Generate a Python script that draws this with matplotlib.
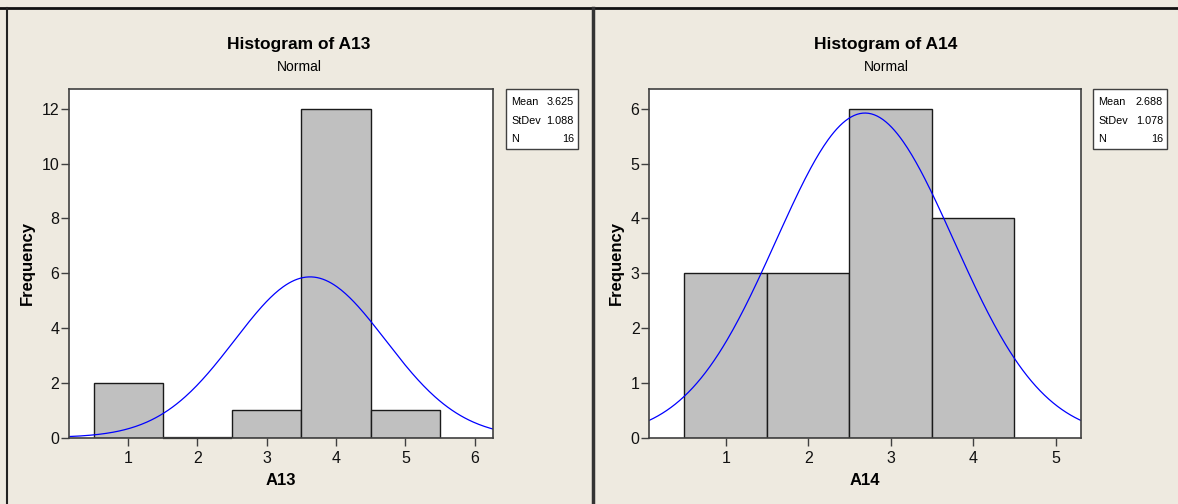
import numpy as np
import matplotlib
matplotlib.use("Agg")
import matplotlib.pyplot as plt
from matplotlib.patches import Rectangle
from matplotlib.lines import Line2D

# Bin centres and counts for each variable
bins_a13 = [1, 2, 3, 4, 5]
counts_a13 = [2, 0, 1, 12, 1]
bins_a14 = [1, 2, 3, 4]
counts_a14 = [3, 3, 6, 4]

# Summary statistics shown in the legend boxes
mean_a13, sd_a13, n_a13 = 3.625, 1.088, 16
mean_a14, sd_a14, n_a14 = 2.688, 1.078, 16

W, H = 1178, 504
BG = "#EEEAE0"
FONT = ["Liberation Sans", "DejaVu Sans"]
plt.rcParams["font.family"] = FONT

fig = plt.figure(figsize=(W / 100, H / 100), dpi=100, facecolor=BG)


def fx(px):
    return px / W


def fy(py):
    return 1 - py / H


def panel(left_px, right_px, panel_l, panel_r, bins, counts, mean, sd, n,
          xlim, ylim, yticks, xticks, name, box_l, box_r):
    ax = fig.add_axes([fx(left_px), fy(437.5), fx(right_px - left_px),
                       (437.5 - 89) / H])
    ax.set_facecolor("white")
    bars = ax.bar(bins, counts, width=1.0, color="#C0C0C0", edgecolor="#1a1a1a",
                  linewidth=1.0, zorder=2)
    for b in bars:
        if b.get_height() == 0:
            b.set_clip_on(False)
            b.set_linewidth(1.6)
    xs = np.linspace(xlim[0], xlim[1], 300)
    pdf = n * 1.0 * np.exp(-0.5 * ((xs - mean) / sd) ** 2) / (sd * np.sqrt(2 * np.pi))
    ax.plot(xs, pdf, color="#0000FF", linewidth=0.9, zorder=3)
    ax.set_xlim(*xlim)
    ax.set_ylim(*ylim)
    ax.set_xticks(xticks)
    ax.set_yticks(yticks)
    for s in ax.spines.values():
        s.set_color("#404040")
        s.set_linewidth(1.2)
        s.set_zorder(4)
    ax.tick_params(direction="out", length=6, width=1, color="#404040",
                   labelsize=11.5, labelcolor="#111111")
    ax.tick_params(axis="x", pad=4)
    ax.tick_params(axis="y", pad=1)
    ax.set_xlabel(name, fontsize=12, fontweight="bold", labelpad=5)
    ax.set_ylabel("Frequency", fontsize=12, fontweight="bold", labelpad=5)

    cx = fx((panel_l + panel_r) / 2)
    fig.text(cx, fy(44), f"Histogram of {name}", ha="center", va="center",
             fontsize=12.5, fontweight="bold")
    fig.text(cx, fy(67), "Normal", ha="center", va="center", fontsize=10)

    # statistics box
    fig.add_artist(Rectangle((fx(box_l), fy(149)), fx(box_r - box_l),
                             (149 - 89) / H, facecolor="white",
                             edgecolor="#404040", linewidth=1.0,
                             transform=fig.transFigure))
    rows = [("Mean", f"{mean:.3f}"), ("StDev", f"{sd:.3f}"), ("N", f"{n}")]
    for i, (k, v) in enumerate(rows):
        y = fy(102 + i * 18.5)
        fig.text(fx(box_l + 5), y, k, ha="left", va="center", fontsize=7.8)
        fig.text(fx(box_r - 4), y, v, ha="right", va="center", fontsize=7.8)
    return ax


panel(69, 493, 6, 592, bins_a13, counts_a13, mean_a13, sd_a13, n_a13,
      (0.146, 6.265), (0, 12.73), [0, 2, 4, 6, 8, 10, 12], [1, 2, 3, 4, 5, 6],
      "A13", 506, 578)
panel(649.3, 1080.5, 594, 1178, bins_a14, counts_a14, mean_a14, sd_a14, n_a14,
      (0.074, 5.30), (0, 6.36), [0, 1, 2, 3, 4, 5, 6], [1, 2, 3, 4, 5],
      "A14", 1093, 1167)

# window frame lines
fig.add_artist(Line2D([0, 1], [fy(8), fy(8)], color="#111111", linewidth=2,
                      transform=fig.transFigure))
fig.add_artist(Line2D([fx(6.5), fx(6.5)], [0, fy(8)], color="#222222",
                      linewidth=1.5, transform=fig.transFigure))
fig.add_artist(Line2D([fx(593), fx(593)], [0, fy(8)], color="#333333",
                      linewidth=2.5, transform=fig.transFigure))

fig.savefig("out.png", dpi=100, facecolor=BG)
